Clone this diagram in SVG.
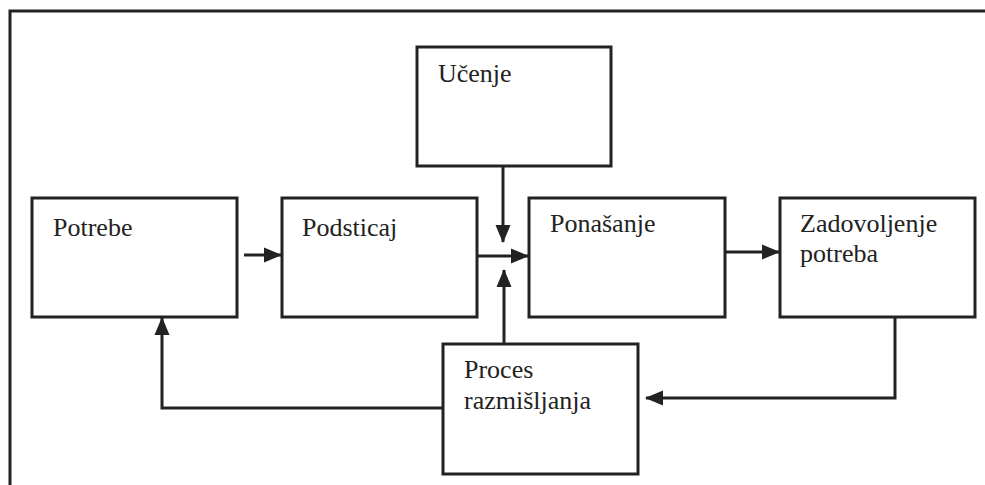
<svg xmlns="http://www.w3.org/2000/svg" width="985" height="485" viewBox="0 0 985 485">
<style>
.box{fill:#fff;stroke:#222;stroke-width:3}
.lbl{font-family:'Liberation Serif','DejaVu Serif',serif;font-size:26px;fill:#222}
.con{fill:none;stroke:#222;stroke-width:3}
.frame{fill:none;stroke:#222;stroke-width:3}
</style>
<defs>
<marker id="ah" markerUnits="userSpaceOnUse" markerWidth="18" markerHeight="18" viewBox="0 0 18 18" refX="17" refY="9" orient="auto">
<path d="M0,1.5 L18,9 L0,16.5 Z" fill="#222"/>
</marker>
</defs>
<path class="frame" d="M10,485 V11 H985"/>
<g id="ucenje"><rect class="box" x="417" y="47" width="194" height="119"/><text class="lbl" x="438" y="82">Učenje</text></g>
<g id="potrebe"><rect class="box" x="32" y="198" width="205" height="119"/><text class="lbl" x="53" y="236">Potrebe</text></g>
<g id="podsticaj"><rect class="box" x="282" y="198" width="195" height="119"/><text class="lbl" x="302" y="236">Podsticaj</text></g>
<g id="ponasanje"><rect class="box" x="529" y="198" width="196" height="119"/><text class="lbl" x="550" y="232">Ponašanje</text></g>
<g id="zadovoljenje"><rect class="box" x="780" y="198" width="195" height="119"/><text class="lbl" x="800" y="232">Zadovoljenje</text><text class="lbl" x="800" y="262">potreba</text></g>
<g id="proces"><rect class="box" x="443" y="344" width="195" height="130"/><text class="lbl" x="464" y="378">Proces</text><text class="lbl" x="464" y="409">razmišljanja</text></g>
<g id="connectors">
<path class="con" d="M244,255 H281" marker-end="url(#ah)"/>
<path class="con" d="M477,256 H528" marker-end="url(#ah)"/>
<path class="con" d="M725,252 H779" marker-end="url(#ah)"/>
<path class="con" d="M503,166 V242" marker-end="url(#ah)"/>
<path class="con" d="M504,344 V270" marker-end="url(#ah)"/>
<path class="con" d="M895,317 V398 H646" marker-end="url(#ah)"/>
<path class="con" d="M443,408 H162 V318" marker-end="url(#ah)"/>
</g>
</svg>
